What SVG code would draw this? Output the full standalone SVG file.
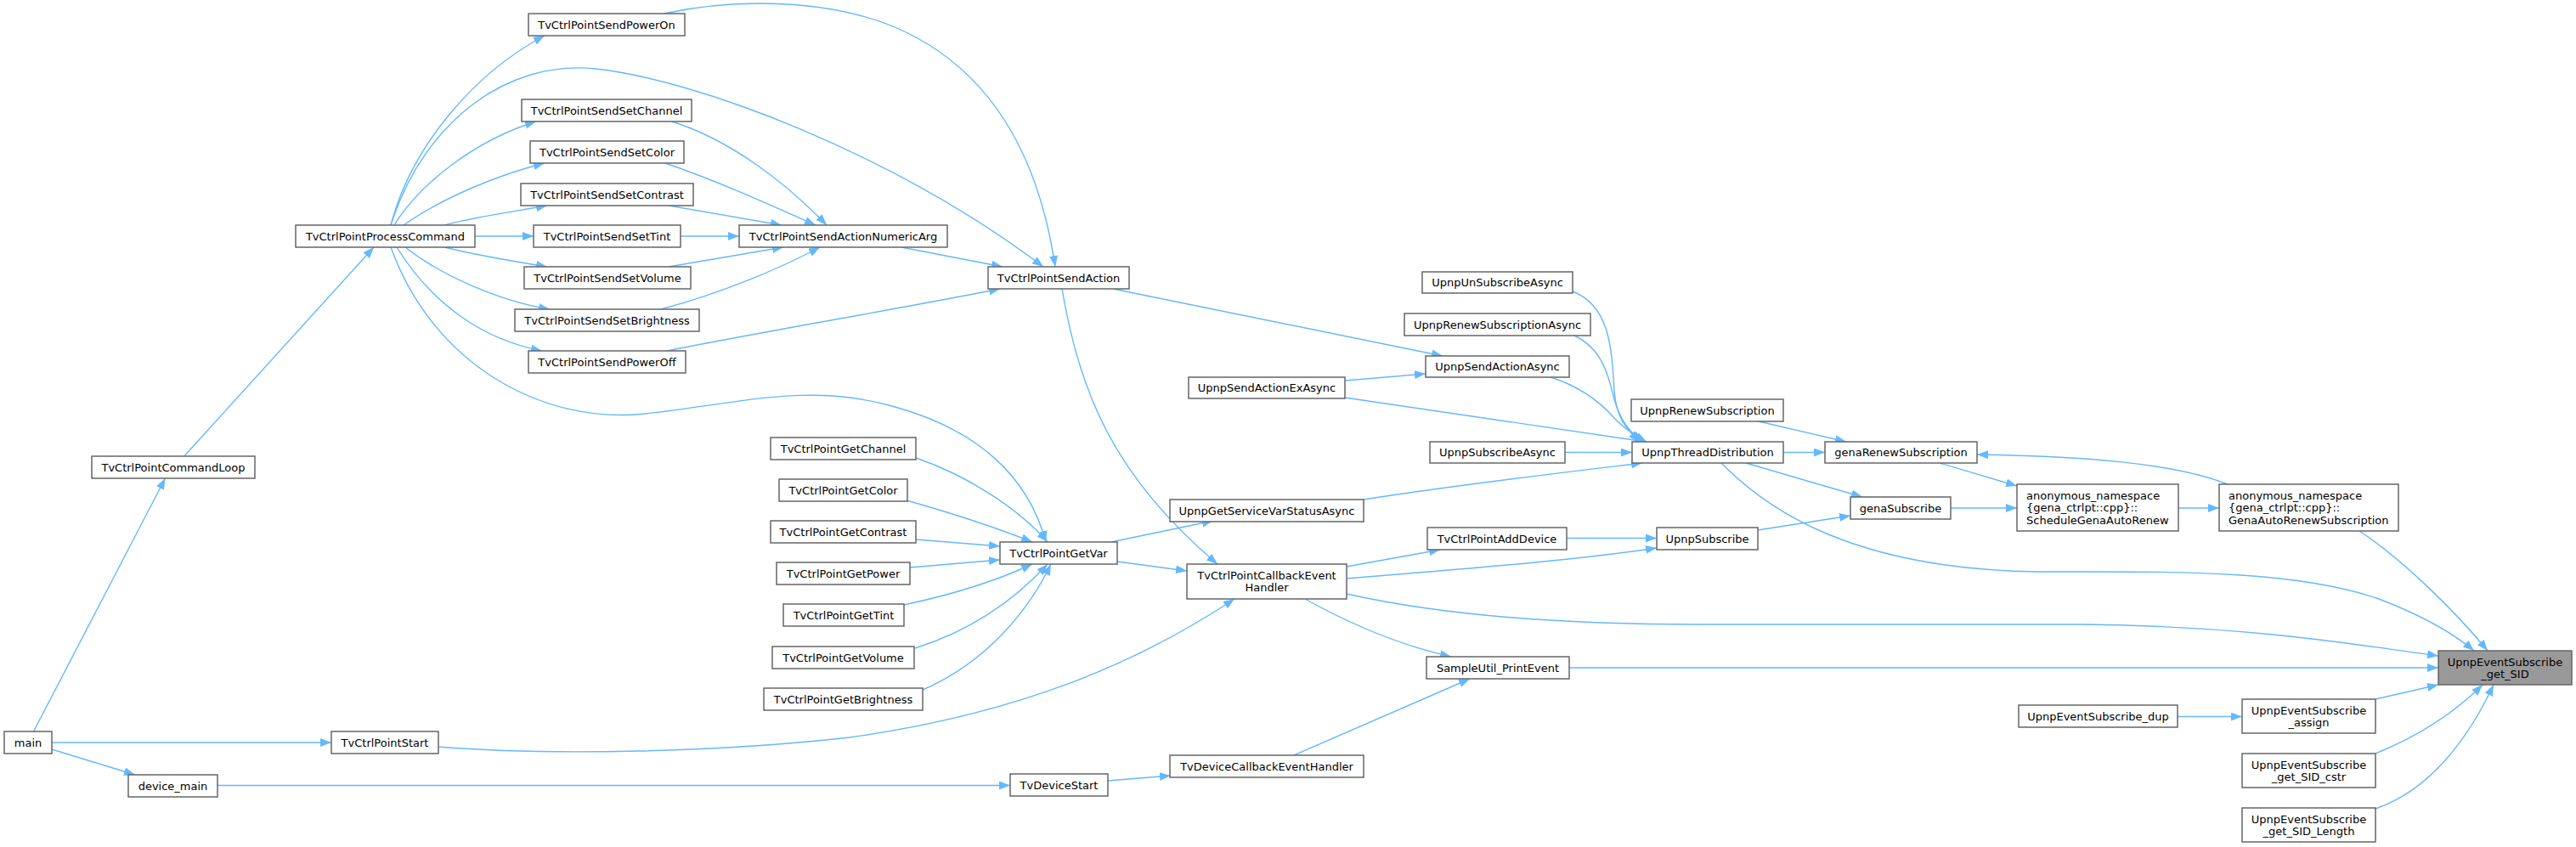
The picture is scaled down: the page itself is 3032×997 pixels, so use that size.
<svg xmlns="http://www.w3.org/2000/svg" width="3032" height="997" viewBox="0 0 3032 997">
<style>
.node rect{fill:#fff;stroke:#666;stroke-width:1.5}
.hl rect{fill:#999}
text{font-family:"DejaVu Sans",sans-serif;font-size:13px;fill:#000;text-anchor:middle}
text.l{text-anchor:start}
.edges path{fill:none;stroke:#63b8ff;stroke-width:1.4;marker-end:url(#arr)}
</style>
<defs>
<marker id="arr" markerUnits="userSpaceOnUse" markerWidth="14" markerHeight="11" refX="13" refY="5" orient="auto"><path d="M0,0 L13,5 L0,10 z" fill="#63b8ff"/></marker>
</defs>
<rect width="3032" height="997" fill="#fff"/>
<g class="edges" id="edges">
<path d="M460,265 C485,170 560,85 641,42"/>
<path d="M464,265 C495,215 560,165 631,143"/>
<path d="M475,265 C525,230 590,205 641,192"/>
<path d="M523,265 C560,255 600,250 644,242"/>
<path d="M559,278 L628,278"/>
<path d="M523,291 C560,300 600,307 644,314"/>
<path d="M477,291 C520,325 590,355 647,364"/>
<path d="M467,291 C510,360 570,400 638,413"/>
<path d="M460,265 C500,140 600,70 701,81 C820,94 1050,180 1228,314"/>
<path d="M460,291 C510,430 640,500 759,487 C870,475 950,450 1050,478 C1150,505 1210,560 1231,638"/>
<path d="M791,143 C860,165 925,215 973,265"/>
<path d="M783,192 C850,215 915,245 960,265"/>
<path d="M787,242 L920,265"/>
<path d="M801,278 L870,278"/>
<path d="M787,314 L922,291"/>
<path d="M778,364 C850,345 920,315 965,291"/>
<path d="M1061,291 L1180,314"/>
<path d="M781,16 C880,-5 1000,0 1080,45 C1180,100 1225,200 1242,314"/>
<path d="M785,413 C900,390 1050,365 1177,340"/>
<path d="M1310,340 L1698,419"/>
<path d="M1250,340 C1270,460 1310,560 1433,664"/>
<path d="M1583,448 L1678,440"/>
<path d="M1583,468 L1937,520"/>
<path d="M1851,343 C1895,360 1897,410 1900,460 C1903,495 1915,505 1930,520"/>
<path d="M1853,395 C1885,410 1893,440 1900,470 C1907,495 1918,508 1933,520"/>
<path d="M1825,444 C1860,455 1885,475 1900,492 C1912,505 1925,513 1938,520"/>
<path d="M1842,532.5 L1921,532.5"/>
<path d="M1605,588 C1720,570 1850,555 1933,545"/>
<path d="M1308,638 L1428,613"/>
<path d="M1315,661 L1397,672"/>
<path d="M1078,539 C1140,560 1200,600 1233,638"/>
<path d="M1067,589 C1120,604 1170,620 1215,638"/>
<path d="M1078,635 L1177,643"/>
<path d="M1071,668 L1177,659"/>
<path d="M1064,712 C1120,700 1170,685 1215,664"/>
<path d="M1077,763 C1150,740 1200,700 1233,664"/>
<path d="M1086,812 C1160,780 1210,720 1237,664"/>
<path d="M1585,667 L1695,647"/>
<path d="M1585,681 C1720,670 1850,660 1950,645"/>
<path d="M1585,699 C1700,725 1850,735 2000,735 L2450,735 C2650,737 2780,760 2870,772"/>
<path d="M1536,705 C1590,735 1650,760 1708,773"/>
<path d="M1844,633.5 L1950,633.5"/>
<path d="M516,879 C650,890 850,885 1000,868 C1200,840 1340,780 1453,705"/>
<path d="M61,874 L390,874"/>
<path d="M61,882 L159,912"/>
<path d="M39.5,861 L194.5,563"/>
<path d="M216.8,537 L440,291"/>
<path d="M256,924.5 L1189,924.5"/>
<path d="M1304,919 L1378,913"/>
<path d="M1523,889 L1730,799"/>
<path d="M1847,786 L2870,786"/>
<path d="M2070,496 L2173,520"/>
<path d="M2099,532.5 L2148,532.5"/>
<path d="M2055,545 L2192,585"/>
<path d="M2026,545 C2080,600 2180,670 2400,673 C2550,673 2700,670 2800,705 C2860,728 2893,750 2912,766"/>
<path d="M2069,624 L2178,607"/>
<path d="M2283,545 L2374,572"/>
<path d="M2296,598 L2374,598"/>
<path d="M2564,598 L2612,598"/>
<path d="M2622,570 C2560,545 2450,537 2327,535"/>
<path d="M2777,625 C2830,660 2890,720 2928,766"/>
<path d="M2796,823 L2870,806"/>
<path d="M2563,843.5 L2639,843.5"/>
<path d="M2796,887 C2850,865 2893,835 2922,806"/>
<path d="M2796,952 C2860,930 2905,870 2935,806"/>
</g>
<g class="node" id="n_main"><rect x="5" y="861" width="56" height="26"/><text x="33" y="878.5">main</text></g>
<g class="node" id="n_cmdloop"><rect x="108" y="537" width="192" height="26"/><text x="204" y="554.5">TvCtrlPointCommandLoop</text></g>
<g class="node" id="n_proccmd"><rect x="348" y="265" width="211" height="26"/><text x="453.5" y="282.5">TvCtrlPointProcessCommand</text></g>
<g class="node" id="n_start"><rect x="390" y="861" width="126" height="26"/><text x="453" y="878.5">TvCtrlPointStart</text></g>
<g class="node" id="n_devmain"><rect x="151" y="912" width="105" height="26"/><text x="203.5" y="929.5">device_main</text></g>
<g class="node" id="n_poweron"><rect x="622" y="16" width="184" height="26"/><text x="714" y="33.5">TvCtrlPointSendPowerOn</text></g>
<g class="node" id="n_setchannel"><rect x="614" y="117" width="200" height="26"/><text x="714" y="134.5">TvCtrlPointSendSetChannel</text></g>
<g class="node" id="n_setcolor"><rect x="624" y="166" width="181" height="26"/><text x="714.5" y="183.5">TvCtrlPointSendSetColor</text></g>
<g class="node" id="n_setcontrast"><rect x="613" y="216" width="203" height="26"/><text x="714.5" y="233.5">TvCtrlPointSendSetContrast</text></g>
<g class="node" id="n_settint"><rect x="628" y="265" width="173" height="26"/><text x="714.5" y="282.5">TvCtrlPointSendSetTint</text></g>
<g class="node" id="n_setvolume"><rect x="617" y="314" width="196" height="26"/><text x="715" y="331.5">TvCtrlPointSendSetVolume</text></g>
<g class="node" id="n_setbright"><rect x="606" y="364" width="217" height="26"/><text x="714.5" y="381.5">TvCtrlPointSendSetBrightness</text></g>
<g class="node" id="n_poweroff"><rect x="622" y="413" width="185" height="26"/><text x="714.5" y="430.5">TvCtrlPointSendPowerOff</text></g>
<g class="node" id="n_numarg"><rect x="870" y="265" width="245" height="26"/><text x="992.5" y="282.5">TvCtrlPointSendActionNumericArg</text></g>
<g class="node" id="n_getchannel"><rect x="907" y="515" width="171" height="26"/><text x="992.5" y="532.5">TvCtrlPointGetChannel</text></g>
<g class="node" id="n_getcolor"><rect x="917" y="564" width="151" height="26"/><text x="992.5" y="581.5">TvCtrlPointGetColor</text></g>
<g class="node" id="n_getcontrast"><rect x="907" y="613" width="171" height="26"/><text x="992.5" y="630.5">TvCtrlPointGetContrast</text></g>
<g class="node" id="n_getpower"><rect x="914" y="662" width="157" height="26"/><text x="992.5" y="679.5">TvCtrlPointGetPower</text></g>
<g class="node" id="n_gettint"><rect x="922" y="711" width="142" height="26"/><text x="993" y="728.5">TvCtrlPointGetTint</text></g>
<g class="node" id="n_getvolume"><rect x="909" y="761" width="167" height="26"/><text x="992.5" y="778.5">TvCtrlPointGetVolume</text></g>
<g class="node" id="n_getbright"><rect x="899" y="810" width="187" height="26"/><text x="992.5" y="827.5">TvCtrlPointGetBrightness</text></g>
<g class="node" id="n_sendaction"><rect x="1163" y="314" width="166" height="26"/><text x="1246" y="331.5">TvCtrlPointSendAction</text></g>
<g class="node" id="n_getvar"><rect x="1177" y="638" width="138" height="26"/><text x="1246" y="655.5">TvCtrlPointGetVar</text></g>
<g class="node" id="n_devstart"><rect x="1189" y="911" width="115" height="26"/><text x="1246.5" y="928.5">TvDeviceStart</text></g>
<g class="node" id="n_sendactionex"><rect x="1399" y="444" width="184" height="25"/><text x="1491" y="461">UpnpSendActionExAsync</text></g>
<g class="node" id="n_getsvcvar"><rect x="1377" y="588" width="228" height="26"/><text x="1491" y="605.5">UpnpGetServiceVarStatusAsync</text></g>
<g class="node" id="n_cbhandler"><rect x="1397" y="664" width="188" height="41"/><text x="1491" y="681.5">TvCtrlPointCallbackEvent</text><text x="1491" y="695.5">Handler</text></g>
<g class="node" id="n_devcb"><rect x="1377" y="889" width="228" height="26"/><text x="1491" y="906.5">TvDeviceCallbackEventHandler</text></g>
<g class="node" id="n_unsubasync"><rect x="1674" y="320" width="177" height="25"/><text x="1762.5" y="337">UpnpUnSubscribeAsync</text></g>
<g class="node" id="n_renewasync"><rect x="1653" y="369" width="219" height="26"/><text x="1762.5" y="386.5">UpnpRenewSubscriptionAsync</text></g>
<g class="node" id="n_sendactionasync"><rect x="1678" y="419" width="169" height="25"/><text x="1762.5" y="436">UpnpSendActionAsync</text></g>
<g class="node" id="n_subasync"><rect x="1683" y="520" width="159" height="25"/><text x="1762.5" y="537">UpnpSubscribeAsync</text></g>
<g class="node" id="n_adddevice"><rect x="1680" y="621" width="164" height="26"/><text x="1762" y="638.5">TvCtrlPointAddDevice</text></g>
<g class="node" id="n_printevent"><rect x="1679" y="773" width="168" height="26"/><text x="1763" y="790.5">SampleUtil_PrintEvent</text></g>
<g class="node" id="n_renewsub"><rect x="1920" y="470" width="179" height="26"/><text x="2009.5" y="487.5">UpnpRenewSubscription</text></g>
<g class="node" id="n_threaddist"><rect x="1921" y="520" width="178" height="25"/><text x="2010" y="537">UpnpThreadDistribution</text></g>
<g class="node" id="n_upnpsub"><rect x="1950" y="621" width="119" height="26"/><text x="2009.5" y="638.5">UpnpSubscribe</text></g>
<g class="node" id="n_genarenew"><rect x="2148" y="520" width="179" height="25"/><text x="2237.5" y="537">genaRenewSubscription</text></g>
<g class="node" id="n_genasub"><rect x="2178" y="585" width="118" height="26"/><text x="2237" y="602.5">genaSubscribe</text></g>
<g class="node" id="n_schedule"><rect x="2374" y="570" width="190" height="55"/><text class="l" x="2385" y="587.5">anonymous_namespace</text><text class="l" x="2385" y="602">{gena_ctrlpt::cpp}::</text><text class="l" x="2385" y="616.5">ScheduleGenaAutoRenew</text></g>
<g class="node" id="n_genaauto"><rect x="2612" y="570" width="211" height="55"/><text class="l" x="2623" y="587.5">anonymous_namespace</text><text class="l" x="2623" y="602">{gena_ctrlpt::cpp}::</text><text class="l" x="2623" y="616.5">GenaAutoRenewSubscription</text></g>
<g class="node" id="n_dup"><rect x="2376" y="830" width="187" height="26"/><text x="2469.5" y="847.5">UpnpEventSubscribe_dup</text></g>
<g class="node" id="n_assign"><rect x="2639" y="823" width="157" height="40"/><text x="2717.5" y="840.5">UpnpEventSubscribe</text><text x="2717.5" y="854.5">_assign</text></g>
<g class="node" id="n_cstr"><rect x="2639" y="887" width="157" height="40"/><text x="2717.5" y="904.5">UpnpEventSubscribe</text><text x="2717.5" y="918.5">_get_SID_cstr</text></g>
<g class="node" id="n_length"><rect x="2639" y="951" width="157" height="40"/><text x="2717.5" y="968.5">UpnpEventSubscribe</text><text x="2717.5" y="982.5">_get_SID_Length</text></g>
<g class="node hl" id="n_getsid"><rect x="2870" y="766" width="157" height="40"/><text x="2948.5" y="783.5">UpnpEventSubscribe</text><text x="2948.5" y="797.5">_get_SID</text></g>
</svg>
